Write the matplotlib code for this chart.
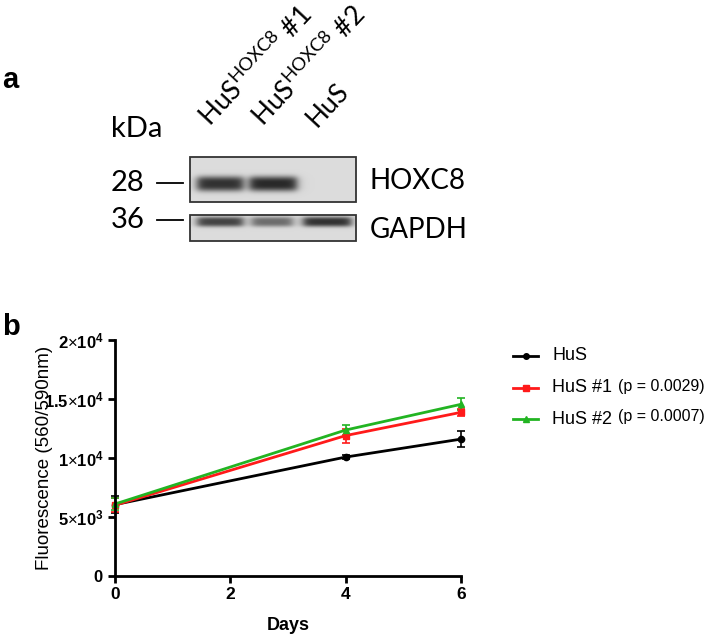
#!/usr/bin/env python

from matplotlib import pyplot as plt
import numpy as np

plt.rcParams['font.family'] = ['Liberation Sans', 'DejaVu Sans']
plt.rcParams['mathtext.fontset'] = 'custom'
plt.rcParams['mathtext.rm'] = 'Liberation Sans'
plt.rcParams['mathtext.bf'] = 'Liberation Sans:bold'

# panel a: western blot (relative band intensities, 0 = no band)
lanes = ["HuS$^{\\mathregular{HOXC8}}$ #1", "HuS$^{\\mathregular{HOXC8}}$ #2", "HuS"]
hoxc8_band = [0.95, 1.0, 0.0]
gapdh_band = [0.85, 0.62, 0.95]
markers_kda = ["28", "36"]
proteins = ["HOXC8", "GAPDH"]

# panel b: growth curve
days = [0, 4, 6]
hus = [6050, 10080, 11600]
hus_err = [700, 150, 650]
hus1 = [6000, 11900, 13870]
hus1_err = [600, 600, 300]
hus2 = [6100, 12370, 14550]
hus2_err = [500, 400, 500]
series_names = ["HuS", "HuS #1", "HuS #2"]
pvalues = ["", "(p = 0.0029)", "(p = 0.0007)"]

fig = plt.figure(figsize=(7.09, 6.35), dpi=100)

# overlay axes in pixel coordinates for panel a and labels
ov = fig.add_axes([0, 0, 1, 1])
ov.axis('off')


def blot(x0, x1, y0, y1, yc, sig, lane_x, lane_w, vals):
    xs = np.arange(x0, x1, 0.5)
    ys = np.arange(y0, y1, 0.5)
    X, Y = np.meshgrid(xs, ys)
    img = np.zeros_like(X)
    for cx, w, v in zip(lane_x, lane_w, vals):
        h = 1 / (1 + np.exp(-(X - (cx - w / 2)) / 2.5)) * 1 / (1 + np.exp((X - (cx + w / 2)) / 2.5))
        g = np.exp(-(np.abs(Y - yc) / sig) ** 3)
        img += v * h * g
    img = 0.86 - 0.7 * np.clip(img, 0, 1)
    ov.imshow(img, cmap='gray', vmin=0, vmax=1, extent=(x0, x1, y1, y0),
              aspect='auto', interpolation='bilinear')
    ov.add_patch(plt.Rectangle((x0, y0), x1 - x0, y1 - y0, fill=False,
                               ec='#333333', lw=1.3))


blot(190, 356, 157, 202, 183.5, 7.5, [220, 273, 326], [46, 47, 48], hoxc8_band)
blot(190, 356, 215, 241, 221.5, 5.0, [220, 272, 327], [46, 41, 48], gapdh_band)
ov.set_xlim(0, 709)
ov.set_ylim(635, 0)

cal = ['Lato', 'DejaVu Sans']
ov.text(2, 88, "a", fontsize=21, fontweight='bold', family='Liberation Sans')
ov.text(2, 335, "b", fontsize=21, fontweight='bold', family='Liberation Sans')
ov.text(111, 137, "kDa", fontsize=21, family=cal)
for lbl, yy in zip(markers_kda, [183, 220]):
    ov.text(111, yy, lbl, fontsize=21, family=cal, va='center')
    ov.plot([157, 183], [yy, yy], color='black', lw=1.3)
for lbl, yy in zip(proteins, [181, 230]):
    ov.text(370, yy, lbl, fontsize=20, family=cal, va='center')
for lbl, xx in zip(lanes, [211, 264, 317]):
    ov.text(xx, 128, lbl, fontsize=19, family=cal, rotation=47,
            rotation_mode='anchor', ha='left', va='baseline')

# panel b
ax = fig.add_axes([115 / 709, 1 - 576 / 635, 346 / 709, 236 / 635])
cols = ['black', '#ff1a1a', '#22b422']
mks = ['o', 's', '^']
data = [(hus, hus_err), (hus1, hus1_err), (hus2, hus2_err)]
for (y, e), c, m in zip(data, cols, mks):
    ax.errorbar(days, y, yerr=e, color=c, marker=m, ms=4.5, lw=2,
                elinewidth=1.2, capsize=3, capthick=1.2, clip_on=False)
ax.set_xlim(0, 6)
ax.set_ylim(0, 20000)
ax.set_xticks([0, 2, 4, 6])
ax.set_xticklabels(['0', '2', '4', '6'], fontweight='bold', fontsize=12.5)
ax.set_yticks([0, 5000, 10000, 15000, 20000])
ax.set_yticklabels([r'$\mathbf{0}$', r'$\mathbf{5}{\times}\mathbf{10^3}$',
                    r'$\mathbf{1}{\times}\mathbf{10^4}$', r'$\mathbf{1.5}{\times}\mathbf{10^4}$',
                    r'$\mathbf{2}{\times}\mathbf{10^4}$'], fontsize=12)
for s in ['top', 'right']:
    ax.spines[s].set_visible(False)
for s in ['left', 'bottom']:
    ax.spines[s].set_linewidth(2)
ax.tick_params(direction='out', length=5, width=2, pad=3)
ax.set_xlabel("Days", fontweight='bold', fontsize=13, labelpad=11)
ax.set_ylabel("Fluorescence (560/590nm)", fontsize=13.5)
ax.yaxis.set_label_coords(-0.18, 0.5)

# legend drawn by hand
for i, (c, m) in enumerate(zip(cols, mks)):
    yy = [356, 388, 419][i]
    ov.plot([513, 538], [yy, yy], color=c, lw=2)
    ov.plot([525.5], [yy], marker=m, color=c, ms=4)
    ov.text(552, yy, series_names[i], fontsize=13, va='center')
    if pvalues[i]:
        ov.text(618, yy - 2, pvalues[i], fontsize=11.5, va='center')

plt.savefig("out.png", dpi=100)
